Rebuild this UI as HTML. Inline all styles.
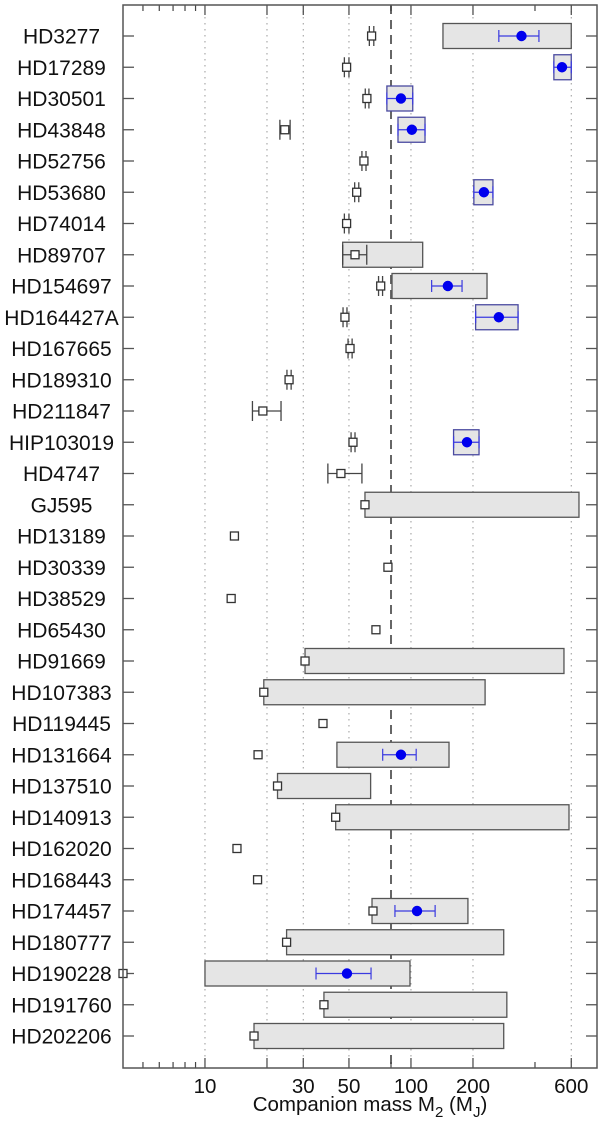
<!DOCTYPE html>
<html><head><meta charset="utf-8"><style>
html,body{margin:0;padding:0;background:#fff;}
svg{display:block;font-family:"Liberation Sans",Arial,sans-serif;}
</style></head><body>
<svg id="chart" width="600" height="1123" viewBox="0 0 600 1123" xmlns="http://www.w3.org/2000/svg"></svg>
<script>
const stars = ["HD3277","HD17289","HD30501","HD43848","HD52756","HD53680","HD74014","HD89707","HD154697","HD164427A","HD167665","HD189310","HD211847","HIP103019","HD4747","GJ595","HD13189","HD30339","HD38529","HD65430","HD91669","HD107383","HD119445","HD131664","HD137510","HD140913","HD162020","HD168443","HD174457","HD180777","HD190228","HD191760","HD202206"];
// grey range boxes [min,max] (null = none)
const boxMin = [143,494,76.4,86.5,null,202,null,46.6,80.9,206,null,null,null,161,null,59.8,null,null,null,null,30.6,19.3,null,43.7,22.5,43.1,null,null,64.7,24.9,10.0,37.8,17.3];
const boxMax = [600,600,102,117,null,250,null,114,234,331,null,null,null,214,null,654,null,null,null,null,553,229,null,153,63.7,585,null,null,189,282,98.9,292,282];
// blue astrometric mass with error
const blueVal = [344,541,89.4,101,null,226,null,null,151,267,null,null,null,187,null,null,null,null,null,null,null,null,null,89.4,null,null,null,null,107,null,48.9,null,null];
const blueLo = [267,494,76.4,86.5,null,202,null,null,126,206,null,null,null,161,null,null,null,null,null,null,null,null,null,72.9,null,null,null,null,83.6,null,34.6,null,null];
const blueHi = [418,600,102,117,null,250,null,null,177,331,null,null,null,214,null,null,null,null,null,null,null,null,null,106,null,null,null,null,131,null,64,null,null];
// open squares: minimum mass with error
const sqVal = [64.4,48.7,61.1,24.4,59.1,54.5,48.7,53.5,71.3,47.8,50.6,25.6,19.1,52.3,45.7,59.8,13.9,77.3,13.4,67.6,30.6,19.3,37.4,18.1,22.5,43.1,14.3,18.0,65.4,24.9,4.0,37.8,17.3];
const sqLo = [62.8,47.5,60,23.1,57.8,53.3,47.5,46.6,69.6,46.8,49.5,25,17.0,51.2,39.5,null,null,null,null,null,null,null,null,null,null,null,null,null,null,null,null,null,null];
const sqHi = [66,50,62.5,25.9,60.5,55.8,50,61,72.8,48.9,51.8,26.2,23.4,53.5,57.8,null,null,null,null,null,null,null,null,null,null,null,null,null,null,null,null,null,null];
const majorTicks = [10,20,30,50,100,200,600];
const tickLabels = ["10","","30","50","100","200","600"];
const minorTicks = [5,6,7,8,9,80,400];
const limitMass = 80;

const NS="http://www.w3.org/2000/svg";
const svg=document.getElementById('chart');
const L=123,R=597,T=5,B=1068;
const xmin=4,xmax=800;
function X(m){return L+(Math.log10(m)-Math.log10(xmin))/(Math.log10(xmax)-Math.log10(xmin))*(R-L);}
function Y(i){return 36+i*31.25;}
function el(tag,attrs,parent){const e=document.createElementNS(NS,tag);for(const k in attrs)e.setAttribute(k,attrs[k]);(parent||svg).appendChild(e);return e;}

majorTicks.forEach((m,i)=>{
  const g=el('line',{x1:X(m),x2:X(m),y1:T,y2:B,stroke:'#999','stroke-width':1,'stroke-dasharray':'1.5,4.5'});
  
  
});
const dl=el('line',{x1:X(limitMass),x2:X(limitMass),y1:T,y2:B,stroke:'#666','stroke-width':2,'stroke-dasharray':'9,6'});



stars.forEach((s,i)=>{
  const y=Y(i);
  const g=el('g',{});
  
  
  const lb=el('text',{x:61.5,y:y+7.5,'text-anchor':'middle','font-size':21,fill:'#111'},g);
  lb.textContent=s;
  
  
  el('line',{x1:L,x2:L+11,y1:y,y2:y,stroke:'#555','stroke-width':1.3},g);
  el('line',{x1:R-11,x2:R,y1:y,y2:y,stroke:'#555','stroke-width':1.3},g);
  if(boxMin[i]!=null){
    const bx=el('rect',{x:X(boxMin[i]),y:y-12.5,width:X(boxMax[i])-X(boxMin[i]),height:25,fill:'#e5e5e5',stroke:blueVal[i]!=null&&boxMin[i]===blueLo[i]?'#4a4aa0':'#555','stroke-width':1.3},g);
    
    
  }
  if(sqLo[i]!=null){
    const x1=X(sqLo[i]),x2=X(sqHi[i]);
    el('line',{x1:x1,x2:x2,y1:y,y2:y,stroke:'#444','stroke-width':1.3},g);
    el('line',{x1:x1,x2:x1,y1:y-10,y2:y+10,stroke:'#444','stroke-width':1.3},g);
    el('line',{x1:x2,x2:x2,y1:y-10,y2:y+10,stroke:'#444','stroke-width':1.3},g);
  }
  const sq=el('rect',{x:X(sqVal[i])-4,y:y-4,width:8,height:8,fill:'#fff',stroke:'#333','stroke-width':1.3},g);
  
  
  if(blueVal[i]!=null){
    const x1=X(blueLo[i]),x2=X(blueHi[i]);
    el('line',{x1:x1,x2:x2,y1:y,y2:y,stroke:'#3a3ae0','stroke-width':1.2},g);
    el('line',{x1:x1,x2:x1,y1:y-6,y2:y+6,stroke:'#3a3ae0','stroke-width':1.2},g);
    el('line',{x1:x2,x2:x2,y1:y-6,y2:y+6,stroke:'#3a3ae0','stroke-width':1.2},g);
    const c=el('circle',{cx:X(blueVal[i]),cy:y,r:5.2,fill:'#0000ee'},g);
    
    
  }
});

majorTicks.forEach((m,i)=>{
  el('line',{x1:X(m),x2:X(m),y1:B,y2:B-10,stroke:'#444','stroke-width':1.2});
  el('line',{x1:X(m),x2:X(m),y1:T,y2:T+10,stroke:'#444','stroke-width':1.2});
  if(tickLabels[i]){
    const t=el('text',{x:X(m),y:1093,'text-anchor':'middle','font-size':20.5,fill:'#111'});
    t.textContent=tickLabels[i];
    
    
  }
});
minorTicks.forEach(m=>{
  el('line',{x1:X(m),x2:X(m),y1:B,y2:B-6,stroke:'#444','stroke-width':1.2});
  el('line',{x1:X(m),x2:X(m),y1:T,y2:T+6,stroke:'#444','stroke-width':1.2});
});
const fr=el('rect',{x:L,y:T,width:R-L,height:B-T,fill:'none',stroke:'#555','stroke-width':1.5});


const at=el('text',{x:370,y:1111,'text-anchor':'middle','font-size':20.5,fill:'#111'});


at.innerHTML='Companion mass M<tspan font-size="15" dy="6">2</tspan><tspan dy="-6"> (M</tspan><tspan font-size="15" dy="6">J</tspan><tspan dy="-6">)</tspan>';
</script>
</body></html>
